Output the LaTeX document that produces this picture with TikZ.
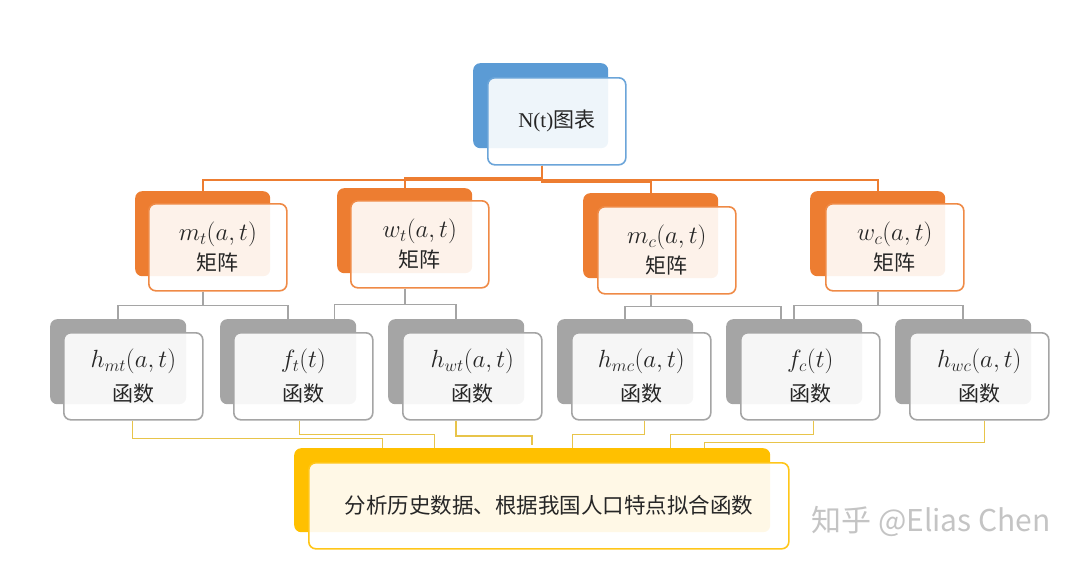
\documentclass[tikz,border=0pt]{standalone}
\usepackage{fontspec}
\setmainfont{Liberation Serif}
\newfontfamily\cjk{Noto Sans CJK SC}
\usepackage{tikz}
\usetikzlibrary{positioning,calc}

\definecolor{accblue}{HTML}{5B9BD5}
\definecolor{accorange}{HTML}{ED7D31}
\definecolor{accgray}{HTML}{A5A5A5}
\definecolor{accgold}{HTML}{FFC000}
\definecolor{goldline}{HTML}{E8C44A}
\definecolor{markgray}{HTML}{C4C4C4}

\newcommand{\fmath}[1]{{\fontsize{24}{30}\selectfont$#1$}}

\begin{document}
\begin{tikzpicture}[
    x=1pt, y=-1pt,
    back/.style={rounded corners=7pt, anchor=north west, inner sep=0pt, minimum width=135pt, minimum height=85pt},
    front/.style={draw, line width=1.6pt, rounded corners=7pt, fill=white, fill opacity=0.9, text opacity=1, text=black!85, anchor=north west, inner sep=0pt, align=center, minimum width=138pt, minimum height=87pt},
    rootback/.style={back, fill=accblue},
    rootfront/.style={front, draw=accblue!90, font=\fontsize{21}{25}\selectfont},
    matback/.style={back, fill=accorange},
    matfront/.style={front, draw=accorange!90, font=\fontsize{21}{30}\selectfont},
    funback/.style={back, fill=accgray, minimum width=136pt},
    funfront/.style={front, draw=accgray, minimum width=139pt, font=\fontsize{21}{34}\selectfont},
    resback/.style={back, fill=accgold, minimum width=476pt, minimum height=84pt},
    resfront/.style={front, draw=accgold!90, minimum width=480pt, minimum height=86pt, font=\fontsize{21.5}{25}\selectfont},
    oline/.style={accorange, line width=1.8pt},
    gline/.style={accgray, line width=1.6pt},
    yline/.style={goldline, line width=1pt}
]
\useasboundingbox (0,0) rectangle (1089,565);

% top
\node[rootback] (rootb) at (473,63) {};
\node[rootfront] (root) at (487,77) {N(t){\cjk 图表}};

% matrices
\node[matback] (mtb) at (135,191) {};
\node[matfront] (mt) at (148,203) {\fmath{m_t(a,t)}\\{\cjk 矩阵}};
\node[matback] (wtb) at (337,188) {};
\node[matfront] (wt) at (350,200) {\fmath{w_t(a,t)}\\{\cjk 矩阵}};
\node[matback] (mcb) at (583,193) {};
\node[matfront] (mc) at (597,206) {\fmath{m_c(a,t)}\\{\cjk 矩阵}};
\node[matback] (wcb) at (810,191) {};
\node[matfront] (wc) at (825,203) {\fmath{w_c(a,t)}\\{\cjk 矩阵}};

% functions
\node[funback] (hmtb) at (50,319) {};
\node[funfront] (hmt) at (63,332) {\fmath{h_{mt}(a,t)}\\{\cjk 函数}};
\node[funback] (ftb) at (220,319) {};
\node[funfront] (ft) at (233,332) {\fmath{f_t(t)}\\{\cjk 函数}};
\node[funback] (hwtb) at (388,319) {};
\node[funfront] (hwt) at (402,332) {\fmath{h_{wt}(a,t)}\\{\cjk 函数}};
\node[funback] (hmcb) at (557,319) {};
\node[funfront] (hmc) at (571,332) {\fmath{h_{mc}(a,t)}\\{\cjk 函数}};
\node[funback] (fcb) at (726,319) {};
\node[funfront] (fc) at (740,332) {\fmath{f_c(t)}\\{\cjk 函数}};
\node[funback] (hwcb) at (895,319) {};
\node[funfront] (hwc) at (909,332) {\fmath{h_{wc}(a,t)}\\{\cjk 函数}};

% result
\node[resback] (resb) at (294,448) {};
\node[resfront] (res) at (308,462) {\cjk 分析历史数据、根据我国人口特点拟合函数};

% top -> matrices
\draw[oline] ([xshift=-15pt]root.south) -- ++(0,14) -| (mtb.north);
\draw[oline] ([xshift=-15pt]root.south) -- ++(0,12) -| (wtb.north);
\draw[oline] ([xshift=-15pt]root.south) -- ++(0,16) -| (mcb.north);
\draw[oline] ([xshift=-15pt]root.south) -- ++(0,14) -| (wcb.north);

% matrices -> functions
\draw[gline] (mtb.south |- mt.south) -- ++(0,14) -| (hmtb.north);
\draw[gline] (mtb.south |- mt.south) -- ++(0,14) -| (ftb.north);
\draw[gline] (wtb.south |- wt.south) -- ++(0,16) -| ([xshift=-22pt]ftb.north east);
\draw[gline] (wtb.south |- wt.south) -- ++(0,16) -| (hwtb.north);
\draw[gline] (mcb.south |- mc.south) -- ++(0,12) -| (hmcb.north);
\draw[gline] (mcb.south |- mc.south) -- ++(0,12) -| ([xshift=-13pt]fcb.north);
\draw[gline] (wcb.south |- wc.south) -- ++(0,14) -| (fcb.north);
\draw[gline] (wcb.south |- wc.south) -- ++(0,14) -| (hwcb.north);

% functions -> result
\draw[yline] ([xshift=-1pt]hmt.south) -- ++(0,18) -| ([xshift=88pt]resb.north west);
\draw[yline] ([xshift=-4pt]ft.south) -- ++(0,14) -| ([xshift=140pt]resb.north west);
\draw[yline, line width=2.2pt] (hwtb.south |- hwt.south) -- ++(0,15) -| ([xshift=238pt,yshift=3pt]resb.north west);
\draw[yline] ([xshift=3pt]hmc.south) -- ++(0,14) -| ([xshift=278pt]resb.north west);
\draw[yline] ([xshift=3pt]fc.south) -- ++(0,14) -| ([xshift=376pt]resb.north west);
\draw[yline] ([xshift=5pt]hwc.south) -- ++(0,22) -| ([xshift=410pt]resb.north west);

\node[markgray, font=\cjk\fontsize{30}{32}\selectfont] (mark) at (931,521) {知乎 @Elias Chen};
\end{tikzpicture}
\end{document}
